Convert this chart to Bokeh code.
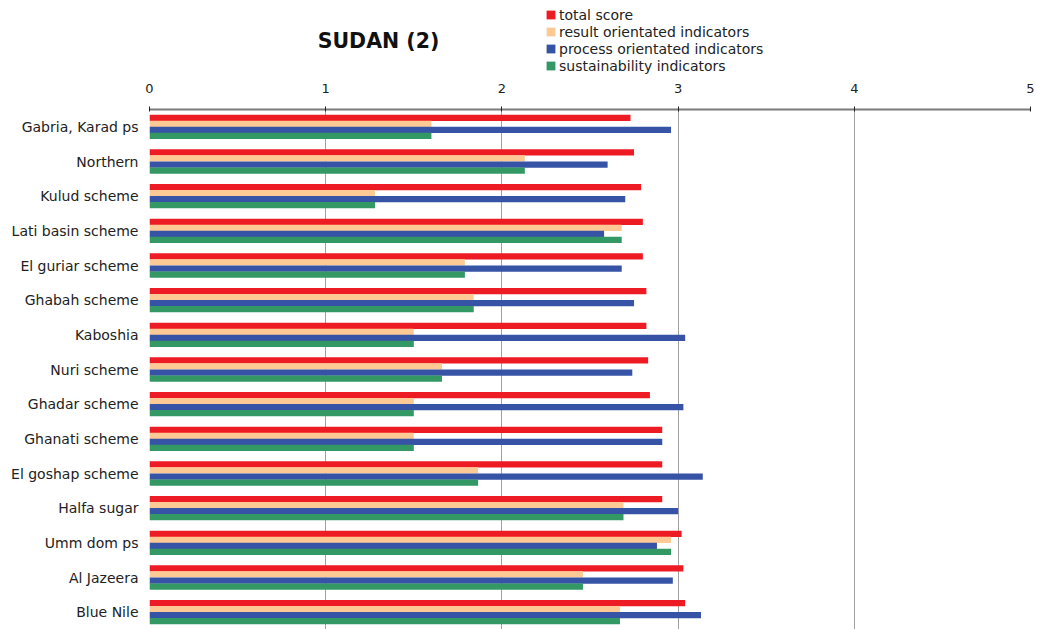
from bokeh.plotting import figure
from bokeh.models import (ColumnDataSource, FactorRange, Range1d, Legend, LegendItem,
                          Label, SingleIntervalTicker)
from bokeh.transform import dodge
from bokeh.layouts import column
from bokeh.embed import file_html
from bokeh.resources import INLINE

schemes = ["Gabria, Karad ps", "Northern", "Kulud scheme", "Lati basin scheme",
           "El guriar scheme", "Ghabah scheme", "Kaboshia", "Nuri scheme",
           "Ghadar scheme", "Ghanati scheme", "El goshap scheme", "Halfa sugar",
           "Umm dom ps", "Al Jazeera", "Blue Nile"]
total_score = [2.73, 2.75, 2.79, 2.80, 2.80, 2.82, 2.82, 2.83, 2.84, 2.91, 2.91, 2.91, 3.02, 3.03, 3.04]
result_ind = [1.60, 2.13, 1.28, 2.68, 1.79, 1.84, 1.50, 1.66, 1.50, 1.50, 1.865, 2.69, 2.96, 2.46, 2.67]
process_ind = [2.96, 2.60, 2.70, 2.58, 2.68, 2.75, 3.04, 2.74, 3.03, 2.91, 3.14, 3.00, 2.88, 2.97, 3.13]
sustain_ind = [1.60, 2.13, 1.28, 2.68, 1.79, 1.84, 1.50, 1.66, 1.50, 1.50, 1.865, 2.69, 2.96, 2.46, 2.67]

series_names = ["total score", "result orientated indicators",
                "process orientated indicators", "sustainability indicators"]
colors = ["#ED1C24", "#FDCA96", "#3753A6", "#349865"]
title_text = "SUDAN (2)"

src = ColumnDataSource(dict(scheme=schemes, total=total_score, result=result_ind,
                            process=process_ind, sustain=sustain_ind))

FONT = "DejaVu Sans"
W = 1036
TOP_H = 77
BL, BR = 149, 6
FW = W - BL - BR

# ---------- header figure: title + legend ----------
head = figure(width=W, height=TOP_H, output_backend="svg", toolbar_location=None,
              x_range=Range1d(0, FW), y_range=Range1d(0, TOP_H),
              x_axis_type=None, y_axis_type=None,
              min_border_left=BL, min_border_right=BR, min_border_top=0, min_border_bottom=0)
head.outline_line_color = None
head.xgrid.visible = False
head.ygrid.visible = False

cols = ["total", "result", "process", "sustain"]
proxies = []
for col, c in zip(colors, cols):
    # legend swatches only; drawn off-view
    r = head.hbar(y=-1000, right=c, left=0, height=1, source=src,
                  fill_color=col, line_color=None)
    proxies.append(r)

legend = Legend(items=[LegendItem(label=n, renderers=[r]) for n, r in zip(series_names, proxies)],
                location=(545 - BL, 3), orientation="vertical",
                glyph_width=11, glyph_height=11, label_standoff=3, label_height=17,
                spacing=0, padding=0, margin=0, border_line_color=None,
                background_fill_alpha=0, label_text_font=FONT,
                label_text_font_size="14px", label_text_color="#222222",
                label_text_baseline="middle")
head.add_layout(legend, "center")

head.add_layout(Label(x=378 - BL, y=TOP_H - 40, text=title_text,
                      text_font=FONT, text_font_style="bold", text_font_size="20.5px",
                      text_align="center", text_baseline="middle", text_color="#111111"))

# ---------- main chart ----------
p = figure(width=W, height=629 - TOP_H, output_backend="svg", toolbar_location=None,
           y_range=FactorRange(factors=schemes[::-1], range_padding=0),
           x_range=Range1d(0, 5), x_axis_location="above",
           min_border_left=BL, min_border_right=BR, min_border_top=109 - TOP_H,
           min_border_bottom=0)
p.outline_line_color = None

offsets = [0.26, 0.087, -0.087, -0.26]
for c, off, col in zip(cols, offsets, colors):
    p.hbar(y=dodge("scheme", off, range=p.y_range), right=c, left=0, height=0.18,
           source=src, fill_color=col, line_color=None)

xa = p.xaxis[0]
xa.ticker = SingleIntervalTicker(interval=1)
xa.axis_line_color = "#7a7a7a"
xa.axis_line_width = 2
xa.major_tick_line_color = "#222222"
xa.major_tick_in = 2
xa.major_tick_out = 3
xa.minor_tick_line_color = None
xa.major_label_text_font = FONT
xa.major_label_text_font_size = "13px"
xa.major_label_text_color = "#222222"
xa.major_label_standoff = 13

ya = p.yaxis[0]
ya.axis_line_color = None
ya.major_tick_line_color = None
ya.minor_tick_line_color = None
ya.major_tick_in = 0
ya.major_tick_out = 0
ya.major_label_text_font = FONT
ya.major_label_text_font_size = "14px"
ya.major_label_text_color = "#222222"
ya.major_label_standoff = 11

p.ygrid.grid_line_color = None
p.xgrid.grid_line_color = "#a0a0a0"
p.xgrid.grid_line_width = 1
p.xgrid.ticker = SingleIntervalTicker(interval=1)

layout = column(head, p, spacing=0)
open("out.html", "w").write(file_html(layout, INLINE))
